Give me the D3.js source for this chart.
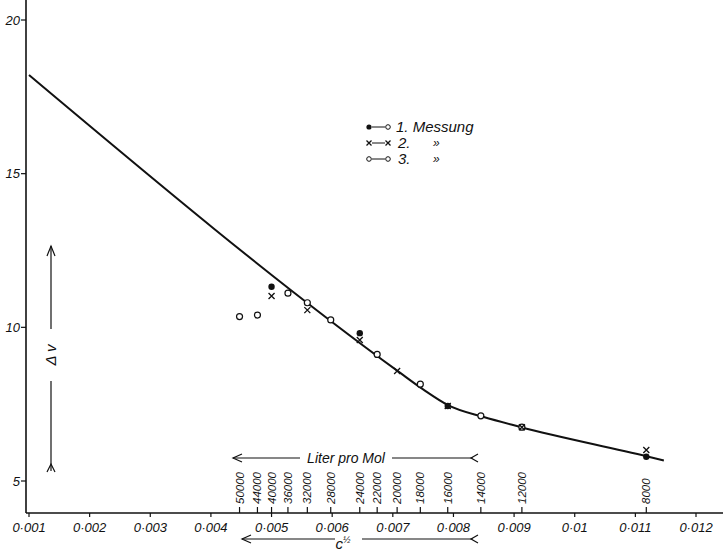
<!DOCTYPE html>
<html>
<head>
<meta charset="utf-8">
<script src="https://cdn.jsdelivr.net/npm/d3@7"></script>
<style>
  body { margin: 0; background: #fff; }
  text { font-family: "Liberation Sans", Arial, sans-serif; font-style: italic; fill: #111; }
</style>
</head>
<body>
<svg class="chart" width="723" height="551"></svg>
<script>
var width = 723;
var height = 551;

// axis ticks
var xTicks = [0.001, 0.002, 0.003, 0.004, 0.005, 0.006, 0.007, 0.008, 0.009, 0.01, 0.011, 0.012];
var yTicks = [5, 10, 15, 20];
// dilution scale (Liter pro Mol), placed at c^1/2 = sqrt(1/V)
var literTicks = [50000, 44000, 40000, 36000, 32000, 28000, 24000, 22000, 20000, 18000, 16000, 14000, 12000, 8000];

// measurements: [Liter pro Mol, delta v]
var mess1 = [[40000, 11.32], [24000, 9.81], [16000, 7.44], [8000, 5.79]];
var mess2 = [[40000, 11.02], [32000, 10.56], [24000, 9.59], [20000, 8.58], [16000, 7.44], [12000, 6.75], [8000, 6.01]];
var mess3 = [[50000, 10.35], [44000, 10.40], [36000, 11.11], [32000, 10.80], [28000, 10.24], [22000, 9.12], [18000, 8.15], [14000, 7.12], [12000, 6.75]];

// drawn curve
var curveC = [0.001, 0.0071, 0.0075, 0.0079, 0.0085, 0.0091, 0.0112, 0.01147];
var curveDv = [18.21, 8.55, 7.98, 7.48, 7.08, 6.76, 5.80, 5.67];

var xScale = d3.scaleLinear().domain([0.001, 0.012]).range([29, 696]);
var yScale = d3.scaleLinear().domain([5, 20]).range([481, 20]);
var axisY = 513;
var axisX = 26;

function cOf(liter) {
    return Math.sqrt(1 / liter);
}

const svg = d3.select('.chart');

//Axis lines
svg.append('line')
    .attr('x1', axisX).attr('x2', width)
    .attr('y1', axisY).attr('y2', axisY)
    .style('stroke', '#111').style('stroke-width', 1.6);
svg.append('line')
    .attr('x1', axisX).attr('x2', axisX)
    .attr('y1', 0).attr('y2', axisY)
    .style('stroke', '#111').style('stroke-width', 1.6);

//x ticks and labels
const xt = svg.append('g').attr('class', 'x-ticks')
    .selectAll('g')
    .data(xTicks)
    .join('g')
    .attr('transform', d => 'translate(' + xScale(d) + ',' + axisY + ')');
xt.append('line').attr('y1', 0).attr('y2', 4).style('stroke', '#111').style('stroke-width', 1.2);
xt.append('text')
    .attr('y', 19)
    .attr('text-anchor', 'middle')
    .attr('font-size', 13)
    .text(d => String(d).replace('.', '·'));

//y ticks and labels
const yt = svg.append('g').attr('class', 'y-ticks')
    .selectAll('g')
    .data(yTicks)
    .join('g')
    .attr('transform', d => 'translate(' + axisX + ',' + yScale(d) + ')');
yt.append('line').attr('x1', -5).attr('x2', 0).style('stroke', '#111').style('stroke-width', 1.2);
yt.append('text')
    .attr('x', -6)
    .attr('dy', '0.35em')
    .attr('text-anchor', 'end')
    .attr('font-size', 13)
    .text(d => d);

//Liter pro Mol ticks (upwards from the axis)
const lt = svg.append('g').attr('class', 'liter-ticks')
    .selectAll('g')
    .data(literTicks)
    .join('g')
    .attr('transform', d => 'translate(' + xScale(cOf(d)) + ',' + axisY + ')');
lt.append('line').attr('y1', 0).attr('y2', -6).style('stroke', '#111').style('stroke-width', 1.2);
lt.append('text')
    .attr('transform', 'translate(0,-9) rotate(-90)')
    .attr('dy', '0.35em')
    .attr('font-size', 11.5)
    .text(d => d);

//arrow helper: line with an open head at the left and a "<" tail at the right
function hArrow(x1, x2, y, gapFrom, gapTo) {
    const g = svg.append('g').style('stroke', '#111').style('fill', 'none').style('stroke-width', 1.2);
    g.append('line').attr('x1', x1).attr('x2', gapFrom).attr('y1', y).attr('y2', y);
    g.append('line').attr('x1', gapTo).attr('x2', x2).attr('y1', y).attr('y2', y);
    g.append('path').attr('d', 'M' + (x1 + 9) + ',' + (y - 4) + 'L' + x1 + ',' + y + 'L' + (x1 + 9) + ',' + (y + 4));
    g.append('path').attr('d', 'M' + (x2 + 5) + ',' + (y - 4) + 'L' + (x2 - 2) + ',' + y + 'L' + (x2 + 5) + ',' + (y + 4));
}

hArrow(233, 473, 458, 300, 392);
svg.append('text')
    .attr('x', 346).attr('y', 463)
    .attr('text-anchor', 'middle')
    .attr('font-size', 14)
    .text('Liter pro Mol');

hArrow(242, 473, 539, 335, 362);
const cl = svg.append('text')
    .attr('x', 343).attr('y', 549)
    .attr('text-anchor', 'middle')
    .attr('font-size', 15);
cl.append('tspan').text('c');
cl.append('tspan').attr('font-size', 9).attr('dy', -6).text('½');

//Delta v arrow
const dv = svg.append('g').style('stroke', '#111').style('fill', 'none').style('stroke-width', 1.2);
dv.append('line').attr('x1', 51).attr('x2', 51).attr('y1', 246).attr('y2', 329);
dv.append('line').attr('x1', 51).attr('x2', 51).attr('y1', 381).attr('y2', 471);
dv.append('path').attr('d', 'M47,256L51,246L55,256');
dv.append('path').attr('d', 'M47,472L51,464L55,472');
svg.append('text')
    .attr('transform', 'translate(51,355) rotate(-90)')
    .attr('dy', '0.35em')
    .attr('text-anchor', 'middle')
    .attr('font-size', 15)
    .text('Δ v');

//Curve
var curvePts = curveC.map((c, i) => [c, curveDv[i]]);
svg.append('path')
    .datum(curvePts)
    .attr('d', d3.line().x(d => xScale(d[0])).y(d => yScale(d[1])).curve(d3.curveMonotoneX))
    .style('fill', 'none')
    .style('stroke', '#111')
    .style('stroke-width', 2);

//Markers
function drawCross(sel, size) {
    sel.append('path')
        .attr('d', 'M' + (-size) + ',' + (-size) + 'L' + size + ',' + size + 'M' + (-size) + ',' + size + 'L' + size + ',' + (-size))
        .style('stroke', '#111').style('stroke-width', 1.3).style('fill', 'none');
}

svg.append('g').attr('class', 'mess3')
    .selectAll('circle')
    .data(mess3)
    .join('circle')
    .attr('cx', d => xScale(cOf(d[0])))
    .attr('cy', d => yScale(d[1]))
    .attr('r', 3)
    .style('fill', '#fff')
    .style('stroke', '#111')
    .style('stroke-width', 1.2);

svg.append('g').attr('class', 'mess2')
    .selectAll('g')
    .data(mess2)
    .join('g')
    .attr('transform', d => 'translate(' + xScale(cOf(d[0])) + ',' + yScale(d[1]) + ')')
    .call(g => drawCross(g, 3));

svg.append('g').attr('class', 'mess1')
    .selectAll('circle')
    .data(mess1)
    .join('circle')
    .attr('cx', d => xScale(cOf(d[0])))
    .attr('cy', d => yScale(d[1]))
    .attr('r', 3.2)
    .style('fill', '#111');

//Legend
var legendRows = [127, 143, 159];
const lg = svg.append('g').attr('class', 'legend');
lg.append('circle').attr('cx', 369).attr('cy', legendRows[0]).attr('r', 2.6).style('fill', '#111');
lg.append('circle').attr('cx', 388).attr('cy', legendRows[0]).attr('r', 2.3).style('fill', '#fff').style('stroke', '#111');
lg.append('g').attr('transform', 'translate(369,' + legendRows[1] + ')').call(g => drawCross(g, 2.5));
lg.append('g').attr('transform', 'translate(388,' + legendRows[1] + ')').call(g => drawCross(g, 2.5));
lg.append('circle').attr('cx', 369).attr('cy', legendRows[2]).attr('r', 2.3).style('fill', '#fff').style('stroke', '#111');
lg.append('circle').attr('cx', 388).attr('cy', legendRows[2]).attr('r', 2.3).style('fill', '#fff').style('stroke', '#111');
legendRows.forEach(y => {
    lg.append('line').attr('x1', 372).attr('x2', 385).attr('y1', y).attr('y2', y)
        .style('stroke', '#111').style('stroke-width', 1);
});
lg.append('text').attr('x', 396).attr('y', legendRows[0] + 5).attr('font-size', 15).text('1. Messung');
lg.append('text').attr('x', 398).attr('y', legendRows[1] + 5).attr('font-size', 15).text('2.');
lg.append('text').attr('x', 398).attr('y', legendRows[2] + 5).attr('font-size', 15).text('3.');
lg.append('text').attr('x', 433).attr('y', legendRows[1] + 4).attr('font-size', 12).text('»');
lg.append('text').attr('x', 433).attr('y', legendRows[2] + 4).attr('font-size', 12).text('»');
</script>
</body>
</html>
